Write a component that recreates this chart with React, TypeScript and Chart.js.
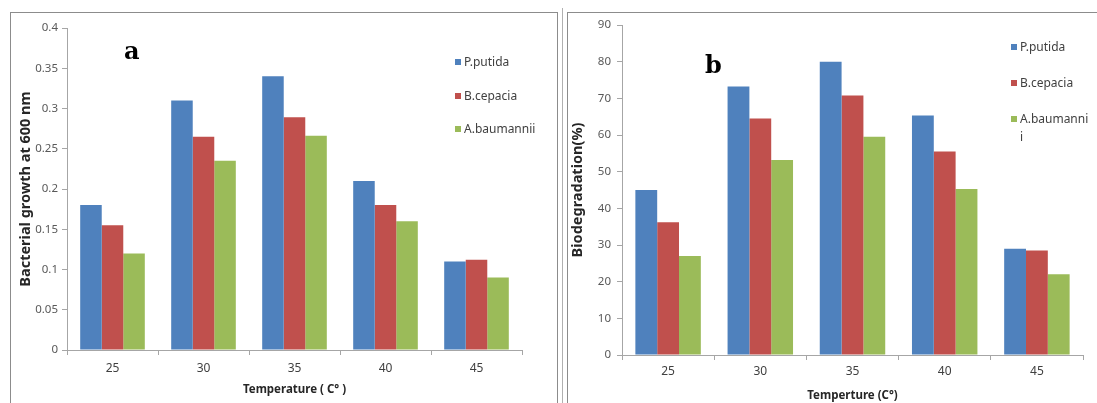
import React, { useEffect, useRef } from "react";
import { Chart, registerables } from "chart.js";

Chart.register(...registerables);

const categories = ["25", "30", "35", "40", "45"];
const seriesNames = ["P.putida", "B.cepacia", "A.baumannii"];
const colors = ["#4F81BD", "#C0504D", "#9BBB59"];

const growthPutida = [0.18, 0.31, 0.34, 0.21, 0.11];
const growthCepacia = [0.155, 0.265, 0.289, 0.18, 0.112];
const growthBaumannii = [0.12, 0.235, 0.266, 0.16, 0.09];

const degPutida = [45, 73.2, 80, 65.3, 29];
const degCepacia = [36.2, 64.5, 70.8, 55.5, 28.5];
const degBaumannii = [27, 53.2, 59.5, 45.3, 22];

const FAMILY = "'Noto Sans', 'Open Sans', sans-serif";

type PanelCfg = {
  w: number;
  h: number;
  yWidth: number;
  xHeight: number;
  padTop: number;
  padRight: number;
  yMax: number;
  yStep: number;
  yTitle: string;
  xTitle: string;
  xTitlePad: number;
  xTickPad: number;
  yTickPad: number;
  yTitlePad: number;
  data: number[][];
  fmt: (v: number) => string;
};

function BarPanel(props: { cfg: PanelCfg }) {
  const ref = useRef<HTMLCanvasElement | null>(null);
  const cfg = props.cfg;
  useEffect(() => {
    if (!ref.current) return;
    const chart = new Chart(ref.current, {
      type: "bar",
      data: {
        labels: categories,
        datasets: cfg.data.map((d, i) => ({
          label: seriesNames[i],
          data: d,
          backgroundColor: colors[i],
          borderWidth: 0,
          barPercentage: 1,
          categoryPercentage: 0.71,
        })),
      },
      options: {
        responsive: false,
        animation: false,
        devicePixelRatio: 1,
        layout: { padding: { top: cfg.padTop, right: cfg.padRight, left: 0, bottom: 0 } },
        plugins: { legend: { display: false }, tooltip: { enabled: false } },
        scales: {
          x: {
            grid: {
              display: true,
              drawOnChartArea: false,
              drawTicks: true,
              tickLength: 5,
              color: "#A6A6A6",
              offset: true,
            },
            border: { color: "#A6A6A6", width: 1 },
            ticks: { color: "#404040", font: { family: FAMILY, size: 12 }, padding: cfg.xTickPad, maxRotation: 0 },
            title: {
              display: true,
              text: cfg.xTitle,
              color: "#262626",
              font: { family: FAMILY, size: 11.5, weight: "bold" },
              padding: { top: 0, bottom: cfg.xTitlePad },
            },
            afterFit: (s: any) => {
              s.height = cfg.xHeight;
            },
          },
          y: {
            min: 0,
            max: cfg.yMax,
            grid: {
              display: true,
              drawOnChartArea: false,
              drawTicks: true,
              tickLength: 5,
              color: "#A6A6A6",
            },
            border: { color: "#A6A6A6", width: 1 },
            ticks: {
              stepSize: cfg.yStep,
              color: "#595959",
              font: { family: FAMILY, size: 11.5 },
              padding: cfg.yTickPad,
              callback: (v: any) => cfg.fmt(Number(v)),
            },
            title: {
              display: true,
              text: cfg.yTitle,
              color: "#262626",
              font: { family: FAMILY, size: 14.5, weight: "bold" },
              padding: { top: cfg.yTitlePad, bottom: 0 },
            },
            afterFit: (s: any) => {
              s.width = cfg.yWidth;
            },
          },
        },
      },
    } as any);
    return () => chart.destroy();
  }, []);
  return <canvas ref={ref} width={cfg.w} height={cfg.h} style={{ width: cfg.w, height: cfg.h, display: "block" }} />;
}

const fmtA = (v: number) => String(Math.round(v * 100) / 100);
const fmtB = (v: number) => String(Math.round(v));

const cfgA: PanelCfg = {
  w: 548,
  h: 391,
  yWidth: 57,
  xHeight: 53,
  padTop: 16,
  padRight: 36,
  yMax: 0.4,
  yStep: 0.05,
  yTitle: "Bacterial growth at 600 nm",
  xTitle: "Temperature ( C\u00b0 )",
  xTitlePad: 6,
  xTickPad: 6,
  yTickPad: 4,
  yTitlePad: 7,
  data: [growthPutida, growthCepacia, growthBaumannii],
  fmt: fmtA,
};

const cfgB: PanelCfg = {
  w: 529,
  h: 391,
  yWidth: 54,
  xHeight: 48,
  padTop: 13,
  padRight: 14,
  yMax: 90,
  yStep: 10,
  yTitle: "Biodegradation(%)",
  xTitle: "Temperture (C\u00b0)",
  xTitlePad: 0,
  xTickPad: 4,
  yTickPad: 6,
  yTitlePad: 1,
  data: [degPutida, degCepacia, degBaumannii],
  fmt: fmtB,
};

const legendText: React.CSSProperties = {
  position: "absolute",
  fontFamily: FAMILY,
  fontSize: 12,
  color: "#404040",
  lineHeight: "15px",
  whiteSpace: "nowrap",
};

function Legend(props: { x: number; ys: number[]; labels: React.ReactNode[] }) {
  return (
    <>
      {props.labels.map((l, i) => (
        <React.Fragment key={i}>
          <div
            style={{
              position: "absolute",
              left: props.x,
              top: props.ys[i] - 3,
              width: 6,
              height: 6,
              background: colors[i],
            }}
          />
          <div style={{ ...legendText, left: props.x + 9, top: props.ys[i] - 8 }}>{l}</div>
        </React.Fragment>
      ))}
    </>
  );
}

export default function App() {
  useEffect(() => {
    document.body.style.margin = "0";
  }, []);
  return (
    <div style={{ position: "relative", width: 1097, height: 403, background: "#ffffff", overflow: "hidden" }}>
      <div style={{ position: "absolute", left: 10, top: 12, width: 548, height: 400, border: "1px solid #8c8c8c", boxSizing: "border-box" }} />
      <div style={{ position: "absolute", left: 562, top: 8, width: 1, height: 400, background: "#b0b0b0" }} />
      <div style={{ position: "absolute", left: 567, top: 12, width: 540, height: 400, border: "1px solid #8c8c8c", boxSizing: "border-box" }} />
      <div style={{ position: "absolute", left: 10, top: 12 }}>
        <BarPanel cfg={cfgA} />
      </div>
      <div style={{ position: "absolute", left: 568, top: 12 }}>
        <BarPanel cfg={cfgB} />
      </div>
      <div style={{ position: "absolute", left: 124, top: 36, fontFamily: "'DejaVu Serif', 'Liberation Serif', serif", fontWeight: "bold", fontSize: 24, color: "#000" }}>a</div>
      <div style={{ position: "absolute", left: 705, top: 50, fontFamily: "'DejaVu Serif', 'Liberation Serif', serif", fontWeight: "bold", fontSize: 24, color: "#000" }}>b</div>
      <Legend x={455} ys={[62, 96, 129]} labels={["P.putida", "B.cepacia", "A.baumannii"]} />
      <Legend
        x={1011}
        ys={[47, 83, 119]}
        labels={[
          "P.putida",
          "B.cepacia",
          <span>
            A.baumanni
            <br />
            <span style={{ display: "inline-block", marginTop: 3 }}>i</span>
          </span>,
        ]}
      />
    </div>
  );
}
